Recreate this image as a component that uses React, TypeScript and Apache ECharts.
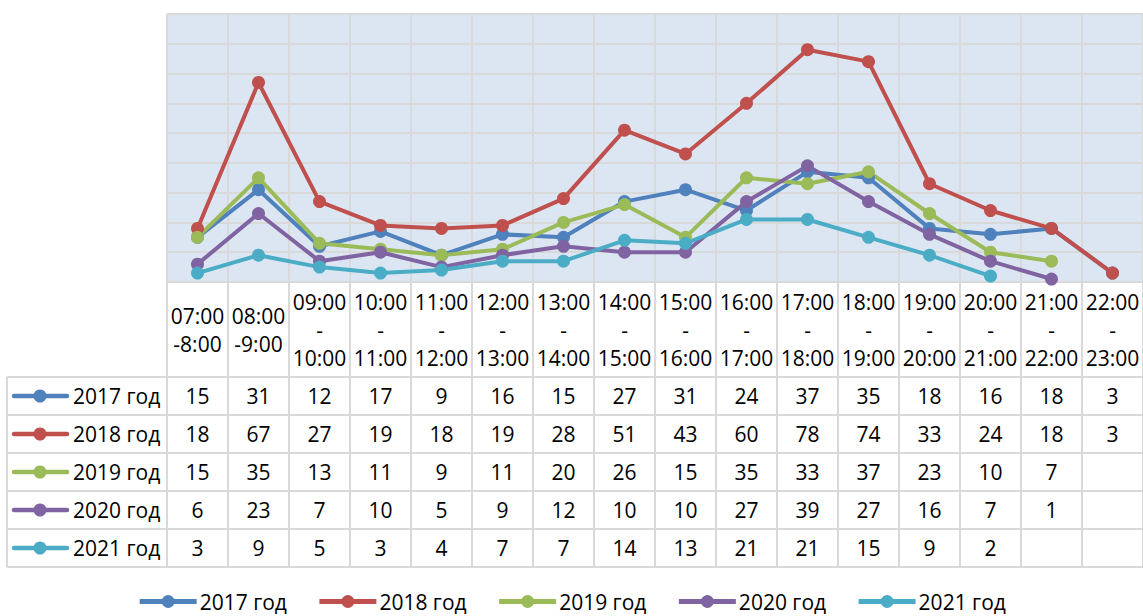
import React, { useEffect, useRef } from "react";
import * as echarts from "echarts";

const categories = [
  "07:00\n-8:00", "08:00\n-9:00", "09:00\n-\n10:00", "10:00\n-\n11:00", "11:00\n-\n12:00",
  "12:00\n-\n13:00", "13:00\n-\n14:00", "14:00\n-\n15:00", "15:00\n-\n16:00", "16:00\n-\n17:00",
  "17:00\n-\n18:00", "18:00\n-\n19:00", "19:00\n-\n20:00", "20:00\n-\n21:00", "21:00\n-\n22:00",
  "22:00\n-\n23:00",
];

const seriesNames = ["2017 год", "2018 год", "2019 год", "2020 год", "2021 год"];
const colors = ["#4f81bd", "#c0504d", "#9bbb59", "#8064a2", "#4bacc6"];

const v2017 = [15, 31, 12, 17, 9, 16, 15, 27, 31, 24, 37, 35, 18, 16, 18, 3];
const v2018 = [18, 67, 27, 19, 18, 19, 28, 51, 43, 60, 78, 74, 33, 24, 18, 3];
const v2019 = [15, 35, 13, 11, 9, 11, 20, 26, 15, 35, 33, 37, 23, 10, 7, null];
const v2020 = [6, 23, 7, 10, 5, 9, 12, 10, 10, 27, 39, 27, 16, 7, 1, null];
const v2021 = [3, 9, 5, 3, 4, 7, 7, 14, 13, 21, 21, 15, 9, 2, null, null];
const allValues = [v2017, v2018, v2019, v2020, v2021];

const yMin = 0;
const yMax = 90;
const yStep = 10;

const FONT = "Open Sans";
const GRID_LEFT = 167;
const GRID_TOP = 14;
const GRID_H = 268;
const HEADER_H = 95;
const ROW_H = 38;
const TABLE_LEFT = 7;
const LINE_COLOR = "#d9d9d9";

export default function App() {
  const ref = useRef<HTMLDivElement>(null);
  useEffect(() => {
    if (!ref.current) return;
    const chart = echarts.init(ref.current, null, { renderer: "svg" });
    const gridBottomY = GRID_TOP + GRID_H;
    const tableBottom = gridBottomY + HEADER_H + ROW_H * seriesNames.length;

    const rowAxes = seriesNames.map((_, k) => ({
      type: "category",
      gridIndex: 0,
      position: "bottom",
      offset: HEADER_H + k * ROW_H,
      data: allValues[k].map((v) => (v == null ? "" : String(v))),
      boundaryGap: true,
      axisLine: { show: true, lineStyle: { color: LINE_COLOR, width: 2 } },
      axisTick: { show: false },
      splitLine: { show: false },
      axisLabel: {
        interval: 0,
        margin: ROW_H / 2,
        verticalAlign: "middle",
        fontSize: 21,
        fontFamily: FONT,
        color: "#000",
      },
    }));

    const graphics: any[] = [];
    for (let k = 0; k <= seriesNames.length; k++) {
      const y = gridBottomY + HEADER_H + k * ROW_H;
      graphics.push({
        type: "line",
        shape: { x1: TABLE_LEFT, y1: y, x2: k === seriesNames.length ? 1143 : GRID_LEFT, y2: y },
        style: { stroke: LINE_COLOR, lineWidth: 2 },
        silent: true,
      });
    }
    graphics.push({
      type: "line",
      shape: { x1: TABLE_LEFT, y1: gridBottomY + HEADER_H, x2: TABLE_LEFT, y2: tableBottom },
      style: { stroke: LINE_COLOR, lineWidth: 2 },
      silent: true,
    });
    seriesNames.forEach((name, k) => {
      const yc = gridBottomY + HEADER_H + k * ROW_H + ROW_H / 2;
      graphics.push({
        type: "line",
        shape: { x1: 14, y1: yc, x2: 67, y2: yc },
        style: { stroke: colors[k], lineWidth: 4.5, lineCap: "round" },
        silent: true,
      });
      graphics.push({
        type: "circle",
        shape: { cx: 40, cy: yc, r: 6.5 },
        style: { fill: colors[k] },
        silent: true,
      });
      graphics.push({
        type: "text",
        x: 73,
        y: yc,
        style: {
          text: name,
          fontSize: 21,
          fontFamily: FONT,
          fill: "#000",
          verticalAlign: "middle",
          align: "left",
        },
        silent: true,
      });
    });

    chart.setOption({
      animation: false,
      backgroundColor: "#fff",
      grid: {
        left: GRID_LEFT,
        right: 0,
        top: GRID_TOP,
        height: GRID_H,
        show: true,
        backgroundColor: "#dce6f2",
        borderWidth: 0,
      },
      legend: {
        data: seriesNames,
        left: "center",
        top: 586,
        itemWidth: 57,
        itemHeight: 16,
        itemGap: 30,
        lineStyle: { width: 5 },
        textStyle: { fontSize: 21, fontFamily: FONT, color: "#000", padding: [0, 0, 0, -2] },
      },
      xAxis: [
        {
          type: "category",
          data: categories,
          boundaryGap: true,
          position: "bottom",
          axisLine: { show: true, lineStyle: { color: LINE_COLOR, width: 2 } },
          axisTick: {
            show: true,
            length: HEADER_H + ROW_H * seriesNames.length,
            lineStyle: { color: LINE_COLOR, width: 2 },
          },
          splitLine: { show: true, lineStyle: { color: LINE_COLOR, width: 2 } },
          axisLabel: {
            interval: 0,
            margin: HEADER_H / 2,
            verticalAlign: "middle",
            lineHeight: 28,
            fontSize: 21,
            fontFamily: FONT,
            color: "#000",
          },
        },
        ...rowAxes,
      ],
      yAxis: {
        type: "value",
        min: yMin,
        max: yMax,
        interval: yStep,
        axisLabel: { show: false },
        axisLine: { show: false },
        axisTick: { show: false },
        splitLine: { show: true, lineStyle: { color: LINE_COLOR, width: 2 } },
      },
      series: seriesNames.map((name, k) => ({
        name,
        type: "line",
        xAxisIndex: 0,
        data: allValues[k],
        symbol: "circle",
        symbolSize: 13,
        lineStyle: { color: colors[k], width: 4 },
        itemStyle: { color: colors[k] },
      })),
      graphic: graphics,
    });
    return () => chart.dispose();
  }, []);
  return (
    <div
      ref={ref}
      style={{ position: "absolute", left: 0, top: 0, width: 1143, height: 616 }}
    />
  );
}
